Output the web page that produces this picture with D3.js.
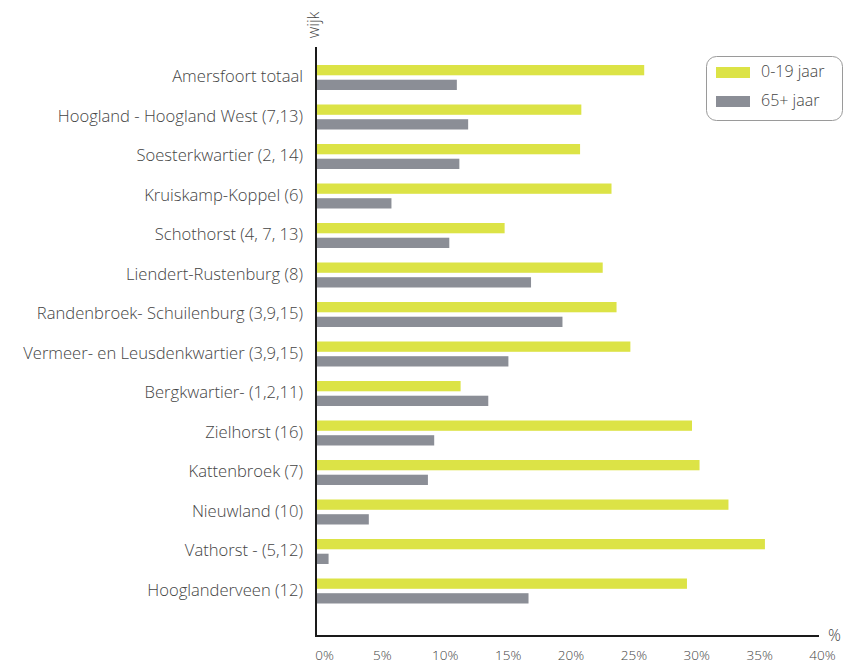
<!DOCTYPE html>
<html>
<head>
<meta charset="utf-8">
<script src="https://cdn.jsdelivr.net/npm/d3@7"></script>
<style>
  body { margin: 0; background: #fff; }
  text { font-family: "Open Sans", "Noto Sans", sans-serif; font-weight: 300; fill: #444; }
</style>
</head>
<body>
<div id="chart"></div>
<script>
const width = 856;
const height = 663;

// datos (%)
const wijken = [
  'Amersfoort totaal',
  'Hoogland - Hoogland West (7,13)',
  'Soesterkwartier (2, 14)',
  'Kruiskamp-Koppel (6)',
  'Schothorst (4, 7, 13)',
  'Liendert-Rustenburg (8)',
  'Randenbroek- Schuilenburg (3,9,15)',
  'Vermeer- en Leusdenkwartier (3,9,15)',
  'Bergkwartier- (1,2,11)',
  'Zielhorst (16)',
  'Kattenbroek (7)',
  'Nieuwland (10)',
  'Vathorst - (5,12)',
  'Hooglanderveen (12)'
];
const jong = [26.1, 21.1, 21.0, 23.5, 15.0, 22.8, 23.9, 25.0, 11.5, 29.9, 30.5, 32.8, 35.7, 29.5];
const oud  = [11.2, 12.1, 11.4, 6.0, 10.6, 17.1, 19.6, 15.3, 13.7, 9.4, 8.9, 4.2, 1.0, 16.9];
const series = ['0-19 jaar', '65+ jaar'];
const colores = ['#dce346', '#8b8e96'];
const xTicks = [0, 5, 10, 15, 20, 25, 30, 35, 40];

const axisLeftX = 316;
const axisRightX = 819;
const axisTop = 47;
const axisBottom = 636;

const svg = d3.select('#chart').append('svg')
  .attr('width', width)
  .attr('height', height);

const xScale = d3.scaleLinear()
  .domain([0, 40])
  .range([axisLeftX, axisRightX]);

const yScale = d3.scaleBand()
  .domain(wijken)
  .range([59, 612]);

const subScale = d3.scaleBand()
  .domain(series)
  .range([6, 31])
  .paddingInner(0.3);

const rows = wijken.map((w, i) => ({ wijk: w, values: [jong[i], oud[i]] }));

// barras
const rowGroups = svg.selectAll('.row')
  .data(rows)
  .enter()
  .append('g')
  .attr('class', 'row')
  .attr('transform', d => `translate(0, ${yScale(d.wijk)})`);

rowGroups.selectAll('rect')
  .data(d => d.values.map((v, k) => ({ serie: series[k], value: v, k: k })))
  .enter()
  .append('rect')
  .attr('x', xScale(0) + 1)
  .attr('y', d => subScale(d.serie))
  .attr('width', d => xScale(d.value) - xScale(0) - 1)
  .attr('height', subScale.bandwidth())
  .attr('fill', d => colores[d.k]);

// etiquetas de wijk
rowGroups.append('text')
  .attr('x', 303)
  .attr('y', 19)
  .attr('text-anchor', 'end')
  .attr('dominant-baseline', 'middle')
  .style('font-size', '16.6px')
  .text(d => d.wijk);

// eje X
const xAxis = svg.append('g')
  .attr('transform', `translate(0, ${axisBottom})`)
  .call(d3.axisBottom(xScale).tickValues(xTicks).tickSize(0).tickFormat(d => d + '%'));
xAxis.select('.domain').remove();
xAxis.selectAll('text')
  .attr('dy', 0)
  .attr('y', 24)
  .attr('x', (d, i) => i === 0 ? 8 : 3)
  .style('font-size', '13.5px')
  .style('font-family', '"Open Sans", "Noto Sans", sans-serif')
  .style('font-weight', 300)
  .attr('fill', '#555');

// lineas de ejes
svg.append('path')
  .attr('d', `M${axisLeftX},${axisTop}V${axisBottom}H${axisRightX}`)
  .attr('fill', 'none')
  .attr('stroke', '#1a1a1a')
  .attr('stroke-width', 2);

// titulos de ejes
svg.append('text')
  .attr('transform', `translate(319, 25) rotate(-90)`)
  .attr('text-anchor', 'middle')
  .style('font-size', '16px')
  .text('wijk');

svg.append('text')
  .attr('x', 828)
  .attr('y', 641)
  .style('font-size', '16px')
  .text('%');

// leyenda
const legend = svg.append('g').attr('class', 'legend');
legend.append('rect')
  .attr('x', 706.5)
  .attr('y', 56.5)
  .attr('width', 136)
  .attr('height', 64)
  .attr('rx', 10)
  .attr('fill', '#fff')
  .attr('stroke', '#9a9a9a')
  .attr('stroke-width', 1);

const legendItems = legend.selectAll('.item')
  .data(series)
  .enter()
  .append('g')
  .attr('class', 'item')
  .attr('transform', (d, i) => `translate(716, ${67 + i * 29})`);

legendItems.append('rect')
  .attr('width', 34)
  .attr('height', 11)
  .attr('fill', (d, i) => colores[i]);

legendItems.append('text')
  .attr('x', 45)
  .attr('y', 5.5)
  .attr('dominant-baseline', 'middle')
  .style('font-size', '16px')
  .text(d => d);
</script>
</body>
</html>
